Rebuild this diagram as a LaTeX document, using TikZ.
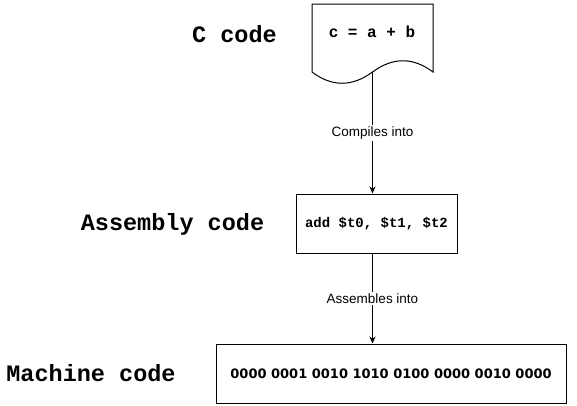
\documentclass[tikz,border=0pt]{standalone}
\usepackage{fontspec}
\setmonofont{Liberation Mono}
\setsansfont{Liberation Sans}
\newfontfamily\verafont{DejaVu Sans}
\usepackage{tikz}
\usetikzlibrary{arrows.meta, positioning, calc}

\begin{document}
\begin{tikzpicture}[x=1pt, y=-1pt,
    stagelabel/.style={anchor=base, font=\fontsize{23.5}{28}\selectfont\ttfamily\bfseries},
    codebox/.style={draw, line width=1pt, inner sep=0pt},
    flowarrow/.style={line width=1pt, -{Stealth[length=7pt, width=6pt]}},
    flowtext/.style={fill=white, inner sep=1.5pt, font=\fontsize{13.5}{16}\selectfont\sffamily}]
  \useasboundingbox (0,0) rectangle (577,405);

  % stage names
  \node[stagelabel] (cLabel) at (234.5,42) {C code};
  \node[stagelabel] (asmLabel) at (172.5,230) {Assembly code};
  \node[stagelabel] (machLabel) at (91,381) {Machine code};

  % C source as a document shape
  \draw[line width=1pt] (312,4) -- (433,4) -- (433,72)
    .. controls (413,57) and (393,57) .. (372.5,72) coordinate (cOut)
    .. controls (352,87) and (332,87) .. (312,72) -- cycle;
  \node[anchor=base, font=\fontsize{16}{19}\selectfont\ttfamily\bfseries] (cDoc) at (372,37) {c = a + b};

  % assembly and machine boxes
  \node[codebox, minimum width=161pt, minimum height=59pt, font=\fontsize{14}{17}\selectfont\ttfamily\bfseries] (asmBox) at (376.5,223.5) {add \$t0, \$t1, \$t2};
  \node[codebox, minimum width=350pt, minimum height=59pt, font=\fontsize{13}{16}\selectfont\verafont\bfseries] (machBox) at (391,373.5) {0000 0001 0010 1010 0100 0000 0010 0000};

  % arrows
  \draw[flowarrow] (cOut) -- (cOut |- asmBox.north) node[flowtext, midway] {Compiles into};
  \draw[flowarrow] (cOut |- asmBox.south) -- (cOut |- machBox.north) node[flowtext, midway] {Assembles into};
\end{tikzpicture}
\end{document}
